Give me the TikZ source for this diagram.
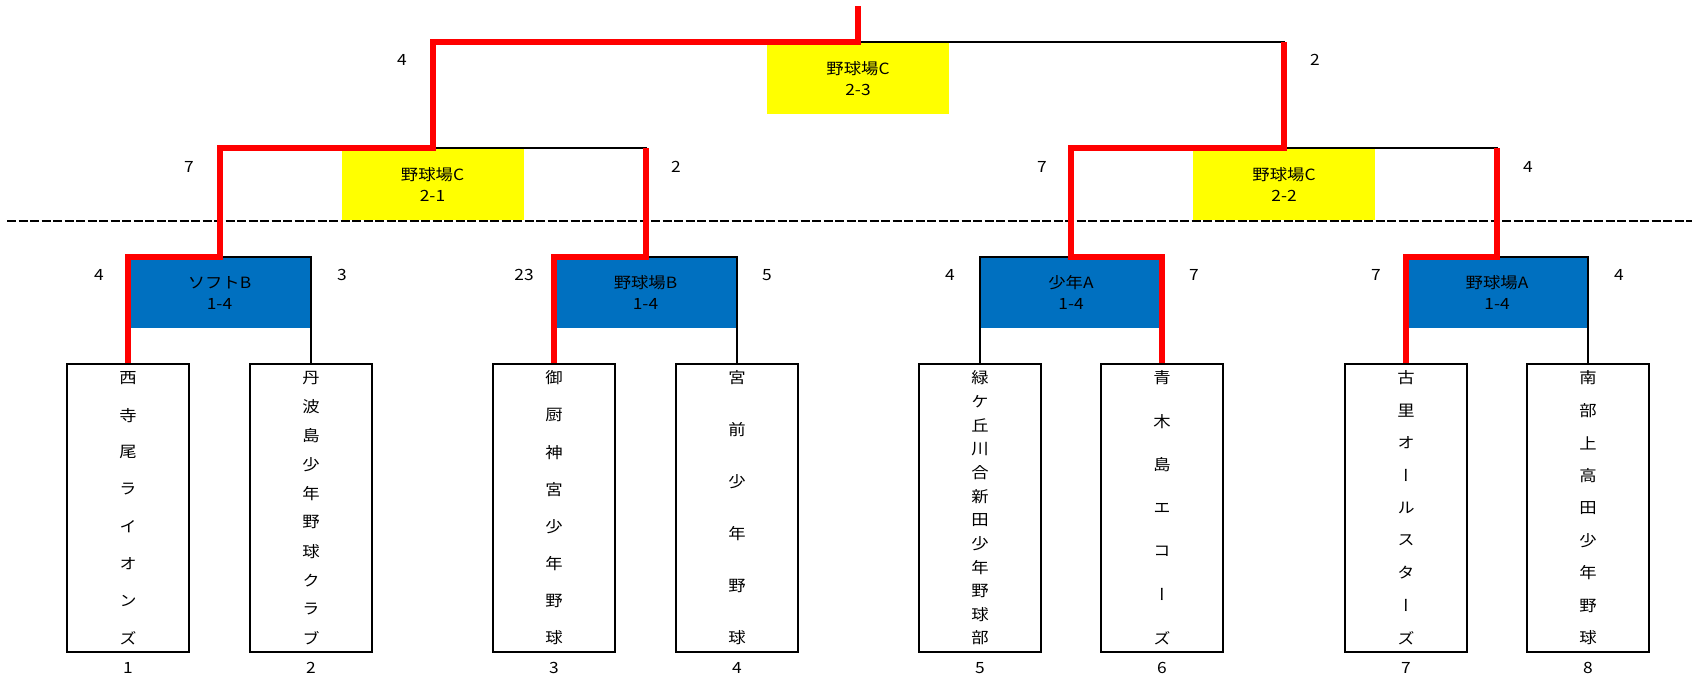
\documentclass[tikz,border=0pt]{standalone}
\usepackage{fontspec}
\setmainfont[FakeStretch=1.12]{Noto Sans CJK JP}
\newfontfamily\tatefont[FakeStretch=1.12,RawFeature=+vert]{Noto Sans CJK JP}
\definecolor{fieldblue}{RGB}{0,112,192}
\definecolor{fieldyellow}{RGB}{255,255,0}
\definecolor{winred}{RGB}{255,0,0}
\tikzset{
  teambox/.style={draw, line width=2pt, minimum width=122pt, minimum height=288pt, inner sep=0pt},
  namechar/.style={font=\tatefont\fontsize{15.5}{16}\selectfont, inner sep=0pt},
  firstround/.style={fill=fieldblue, anchor=north, minimum width=183pt, minimum height=71pt, inner sep=0pt, align=center, font=\fontsize{15.5}{21}\selectfont},
  laterround/.style={fill=fieldyellow, anchor=north, minimum width=182pt, minimum height=72pt, inner sep=0pt, align=center, font=\fontsize{15.5}{21}\selectfont},
  score/.style={inner sep=0pt, font=\fontsize{15.5}{16}\selectfont},
  bracket/.style={line width=2pt},
  winner/.style={line width=6pt, winred},
  cutline/.style={line width=2pt, dash pattern=on 9pt off 2.5pt}
}
\begin{document}
\begin{tikzpicture}[x=1pt, y=-1pt]
  \useasboundingbox (0,0) rectangle (1692,678);
  \foreach \i/\x/\cnt/\chars in {
    1/128/8/{西,寺,尾,ラ,イ,オ,ン,ズ},
    2/311/10/{丹,波,島,少,年,野,球,ク,ラ,ブ},
    3/554/8/{御,厨,神,宮,少,年,野,球},
    4/737/6/{宮,前,少,年,野,球},
    5/980/12/{緑,ケ,丘,川,合,新,田,少,年,野,球,部},
    6/1162/7/{青,木,島,エ,コ,ー,ズ},
    7/1406/9/{古,里,オ,ー,ル,ス,タ,ー,ズ},
    8/1588/9/{南,部,上,高,田,少,年,野,球}} {
    \node(t\i)[teambox] at (\x,508) {};
    \foreach \ch [count=\k from 0] in \chars
      \node(t\i-\k)[namechar] at (\x,{378+\k*260/(\cnt-1)}) {\ch};
    \node(n\i)[score] at (\x,668) {\i};
  }
  \node(m1)[firstround] at (219.5,257) {ソフトB\\1-4};
  \node(m2)[firstround] at (645.5,257) {野球場B\\1-4};
  \node(m3)[firstround] at (1071,257) {少年A\\1-4};
  \node(m4)[firstround] at (1497,257) {野球場A\\1-4};
  \node(s1)[laterround] at (432.5,148) {野球場C\\2-1};
  \node(s2)[laterround] at (1284,148) {野球場C\\2-2};
  \node(f)[laterround] at (858,42) {野球場C\\2-3};
  \coordinate (top) at (858,6);
  \coordinate (cutl) at (7,221);
  \coordinate (cutr) at (1692,221);
  \draw[cutline] (cutl) -- (cutr);
  \draw[bracket] (t1.north) |- (m1.north) -| (t2.north);
  \draw[bracket] (t3.north) |- (m2.north) -| (t4.north);
  \draw[bracket] (t5.north) |- (m3.north) -| (t6.north);
  \draw[bracket] (t7.north) |- (m4.north) -| (t8.north);
  \draw[bracket] (m1.north) |- (s1.north) -| (m2.north);
  \draw[bracket] (m3.north) |- (s2.north) -| (m4.north);
  \draw[bracket] (s1.north) |- (f.north) -| (s2.north);
  \draw[winner] (t1.north) |- (m1.north) |- (s1.north) |- (f.north) -- (top);
  \draw[winner] (t3.north) |- (m2.north) -- (m2.north |- s1.north);
  \draw[winner] (t6.north) |- (m3.north) |- (s2.north) -- (s2.north |- f.north);
  \draw[winner] (t7.north) |- (m4.north) -- (m4.north |- s2.north);
  \foreach \x/\y/\pts [count=\j] in {99/275/4, 342/275/3, 524/275/23, 767/275/5,
      950/275/4, 1194/275/7, 1376/275/7, 1619/275/4,
      189/167/7, 676/167/2, 1042/167/7, 1528/167/4, 402/60/4, 1315/60/2}
    \node(p\j)[score] at (\x,\y) {\pts};
\end{tikzpicture}
\end{document}
